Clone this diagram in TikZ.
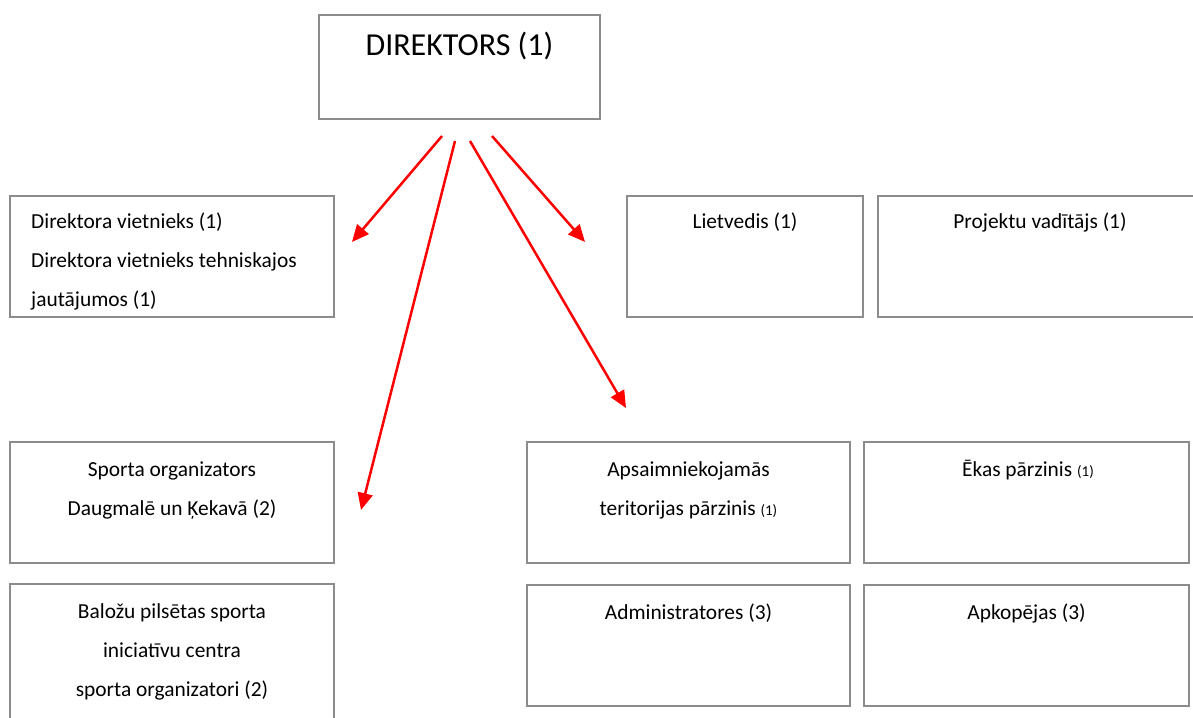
\documentclass[tikz,border=0pt]{standalone}
\usepackage{fontspec}
\setmainfont{Carlito}
\usetikzlibrary{arrows.meta}
\definecolor{boxgray}{HTML}{8C8C8C}
\tikzset{
  box/.style={draw=boxgray, line width=2pt, rectangle, inner sep=0pt, outer sep=0pt, fill=none},
  lbl/.style={anchor=base, inner sep=0pt, font=\fontsize{21.4}{25}\selectfont},
  lbll/.style={anchor=base west, inner sep=0pt, font=\fontsize{21.4}{25}\selectfont},
  redarrow/.style={draw=red, line width=2.5pt, -{Triangle[length=17pt,width=15pt]}, shorten >=0pt}
}
\newcommand{\smallpar}[1]{{\fontsize{15}{17}\selectfont #1}}
\begin{document}
\begin{tikzpicture}[x=1pt,y=-1pt]
\useasboundingbox (0,0) rectangle (1193,717);
% boxes
\node[box, minimum width=281pt, minimum height=104pt] (dir) at (459.5,67) {};
\node[box, minimum width=324pt, minimum height=121pt] (vietn) at (172,256.5) {};
\node[box, minimum width=236pt, minimum height=121pt] (liet) at (745,256.5) {};
\node[box, minimum width=325pt, minimum height=121pt] (proj) at (1040.5,256.5) {};
\node[box, minimum width=324pt, minimum height=121pt] (sport) at (172,502.5) {};
\node[box, minimum width=324pt, minimum height=146pt] (balozu) at (172,657) {};
\node[box, minimum width=323pt, minimum height=121pt] (apsaim) at (688.5,502.5) {};
\node[box, minimum width=325pt, minimum height=121pt] (ekas) at (1026.5,502.5) {};
\node[box, minimum width=323pt, minimum height=121pt] (admin) at (688.5,645.5) {};
\node[box, minimum width=325pt, minimum height=121pt] (apkop) at (1026.5,645.5) {};
% texts
\node[anchor=base, inner sep=0pt, font=\fontsize{32}{36}\selectfont] (tdir) at (459.5,56) {DIREKTORS (1)};
\node[lbll] (tv1) at (31,228) {Direktora vietnieks (1)};
\node[lbll] (tv2) at (31,267) {Direktora vietnieks tehniskajos};
\node[lbll] (tv3) at (31,306) {jautājumos (1)};
\node[lbl] (tliet) at (745,228) {Lietvedis (1)};
\node[lbl] (tproj) at (1040,228) {Projektu vadītājs (1)};
\node[lbl] (ts1) at (172,476) {Sporta organizators};
\node[lbl] (ts2) at (172,515) {Daugmalē un Ķekavā (2)};
\node[lbl] (tb1) at (172,618) {Baložu pilsētas sporta};
\node[lbl] (tb2) at (172,657) {iniciatīvu centra};
\node[lbl] (tb3) at (172,696) {sporta organizatori (2)};
\node[lbl] (ta1) at (688.5,476) {Apsaimniekojamās};
\node[lbl] (ta2) at (688.5,515) {teritorijas pārzinis \smallpar{(1)}};
\node[lbl] (te1) at (1028,476) {Ēkas pārzinis \smallpar{(1)}};
\node[lbl] (tad) at (688.5,619) {Administratores (3)};
\node[lbl] (tap) at (1026.5,619) {Apkopējas (3)};
% arrow coordinates
\coordinate (s1) at (442,136);
\coordinate (e1) at (352,242);
\coordinate (s2) at (455,141);
\coordinate (e2) at (361,510);
\coordinate (s3) at (470,141);
\coordinate (e3) at (626,408);
\coordinate (s4) at (492,136);
\coordinate (e4) at (585,242);
\draw[redarrow] (s1) -- (e1);
\draw[redarrow] (s2) -- (e2);
\draw[redarrow] (s3) -- (e3);
\draw[redarrow] (s4) -- (e4);
\end{tikzpicture}
\end{document}
